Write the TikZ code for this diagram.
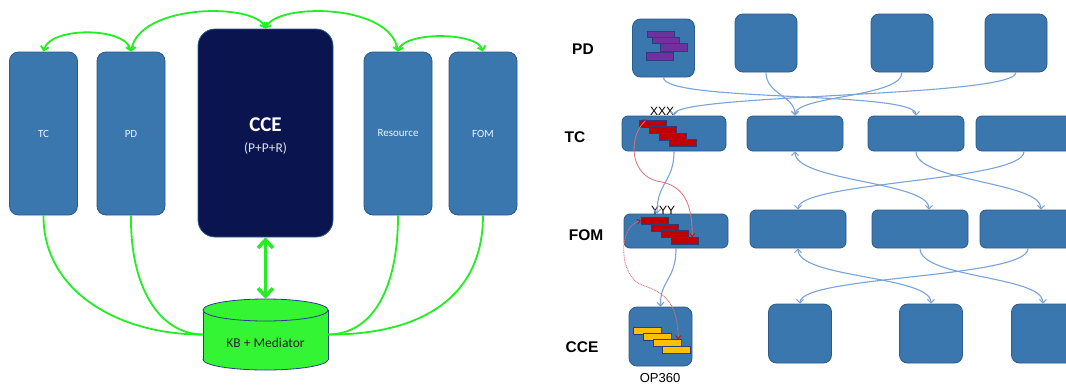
\documentclass[tikz,border=0pt]{standalone}
\usepackage{fontspec}
\setmainfont{Carlito}
\newfontfamily\arialf{Liberation Sans}
\usetikzlibrary{arrows.meta}
\definecolor{boxblue}{HTML}{3A77AF}
\definecolor{boxedge}{HTML}{2D5A87}
\definecolor{navybox}{HTML}{0A1550}
\definecolor{lgreen}{HTML}{22EE22}
\definecolor{cylgreen}{HTML}{33F533}
\definecolor{cyledge}{HTML}{2E3A8C}
\definecolor{conblue}{HTML}{7AA3D8}
\definecolor{conred}{HTML}{E07070}
\definecolor{tipred}{HTML}{B01010}
\definecolor{barred}{HTML}{C00000}
\definecolor{barpurple}{HTML}{7030A0}
\definecolor{barorange}{HTML}{FFC000}
\definecolor{baredge}{HTML}{2A3F7A}
\begin{document}
\begin{tikzpicture}[x=1pt,y=-1pt,
  tallbox/.style={draw=boxedge,fill=boxblue,line width=0.8pt,rounded corners=9pt,minimum width=68pt,minimum height=163pt,inner sep=0pt,text=white!92!boxblue,font=\fontsize{11}{13}\selectfont},
  ccebox/.style={draw=boxedge,fill=navybox,line width=0.8pt,rounded corners=17pt,minimum width=135pt,minimum height=208pt,inner sep=0pt},
  sqbox/.style={draw=boxedge,fill=boxblue,line width=0.8pt,rounded corners=8pt,minimum width=62pt,minimum height=58pt,inner sep=0pt},
  widebox/.style={draw=boxedge,fill=boxblue,line width=0.8pt,rounded corners=6pt,minimum width=96pt,minimum height=37pt,inner sep=0pt},
  rowlabel/.style={font=\arialf\bfseries\fontsize{15.5}{18}\selectfont,inner sep=0pt},
  bar/.style={draw=baredge,line width=0.6pt,inner sep=0pt,minimum width=27pt,minimum height=7pt},
  gline/.style={draw=lgreen,line width=1.8pt,{Straight Barb[length=4pt,width=8pt]}-{Straight Barb[length=4pt,width=8pt]}},
  gplain/.style={draw=lgreen,line width=1.8pt},
  bline/.style={draw=conblue,line width=1.1pt,-{Straight Barb[length=3.5pt,width=7pt]}},
  bboth/.style={draw=conblue,line width=1.1pt,{Straight Barb[length=3.5pt,width=7pt]}-{Straight Barb[length=3.5pt,width=7pt]}},
  rline/.style={draw=conred,line width=0.8pt,{Straight Barb[length=3pt,width=5pt,color=tipred]}-{Straight Barb[length=3pt,width=5pt,color=tipred]}},
  rdot/.style={rline,dash pattern=on 1pt off 0.7pt}
]
\useasboundingbox[fill=white] (0,0) rectangle (1066,386);

% ---------------- left panel ----------------
\node[tallbox] (ltc) at (43.5,133.5) {TC};
\node[tallbox] (lpd) at (131,133.5) {PD};
\node[tallbox] (lres) at (398,133.5) {Resource};
\node[tallbox] (lfom) at (483,133.5) {FOM};
\node[ccebox] (lcce) at (265.5,133) {};
\node[text=white,font=\bfseries\fontsize{21}{24}\selectfont,inner sep=0pt] (ccet) at (265.5,125) {CCE};
\node[text=white!88!navybox,font=\fontsize{13.5}{16}\selectfont,inner sep=0pt] (ccep) at (265.5,148) {(P+P+R)};

% cylinder
\node[minimum width=125pt,minimum height=71pt,inner sep=0pt] (kb) at (265.5,334.5) {};
\filldraw[fill=cylgreen,draw=cyledge,line width=0.8pt] (265.5,359.5) ellipse [x radius=62.5,y radius=10.5];
\fill[cylgreen] (203,310) rectangle (328,359.5);
\draw[cyledge,line width=0.8pt] (203,310) -- (203,359.5) (328,310) -- (328,359.5);
\filldraw[fill=cylgreen,draw=cyledge,line width=0.8pt] (265.5,310) ellipse [x radius=62.5,y radius=11];
\node[font=\fontsize{13.5}{16}\selectfont,text=black!85,inner sep=0pt] (kbt) at (265.5,343) {KB + Mediator};

% green connectors
\draw[gline] (ltc.north) .. controls +(6,-25) and +(-6,-25) .. (lpd.north);
\draw[gline] (lpd.north) .. controls (140,3) and (255,3) .. (lcce.north);
\draw[gline] (lcce.north) .. controls (277,3) and (390,3) .. (lres.north);
\draw[gline] (lres.north) .. controls +(6,-20) and +(-6,-20) .. (lfom.north);
\draw[gplain] (ltc.south) .. controls (43,292) and (120,335) .. (kb.west);
\draw[gplain] (lpd.south) .. controls (130,285) and (158,334) .. (kb.west);
\draw[gplain] (lres.south) .. controls (398,290) and (372,334) .. (kb.east);
\draw[gplain] (lfom.south) .. controls (483,305) and (410,335) .. (kb.east);
\draw[draw=lgreen,line width=3.5pt,{Straight Barb[length=8pt,width=15pt]}-{Straight Barb[length=8pt,width=15pt]}] (lcce.south) -- (kb.north);

% ---------------- right panel ----------------
\node[rowlabel] (lbpd) at (583,49) {PD};
\node[rowlabel] (lbtc) at (575,137) {TC};
\node[rowlabel] (lbfom) at (586,235) {FOM};
\node[rowlabel] (lbcce) at (582,347) {CCE};

\node[sqbox] (pd1) at (663.5,48) {};
\node[sqbox] (pd2) at (766,43) {};
\node[sqbox] (pd3) at (902,43) {};
\node[sqbox] (pd4) at (1016,43) {};

\node[widebox,minimum width=104pt,minimum height=35pt] (tc1) at (674,133.5) {};
\node[widebox,minimum height=35pt] (tc2) at (795,133.5) {};
\node[widebox,minimum height=35pt] (tc3) at (916,133.5) {};
\node[widebox,minimum height=35pt] (tc4) at (1024,133.5) {};

\node[widebox,minimum width=104pt,minimum height=34pt] (fom1) at (676,231) {};
\node[widebox,minimum height=38pt] (fom2) at (798,229) {};
\node[widebox,minimum height=38pt] (fom3) at (920,229) {};
\node[widebox,minimum height=38pt] (fom4) at (1028,229) {};

\node[sqbox,minimum width=63pt,minimum height=59pt] (cce1) at (660.5,336.5) {};
\node[sqbox,minimum width=63pt,minimum height=59pt] (cce2) at (800,333.5) {};
\node[sqbox,minimum width=63pt,minimum height=59pt] (cce3) at (931,333.5) {};
\node[sqbox,minimum width=63pt,minimum height=59pt] (cce4) at (1043,333.5) {};

% bars
\node[bar,fill=barpurple,minimum height=6pt] (pdb1) at (661,34.5) {};
\node[bar,fill=barpurple,minimum height=6pt] (pdb2) at (666,40) {};
\node[bar,fill=barpurple,minimum height=8pt] (pdb3) at (673.5,47) {};
\node[bar,fill=barpurple,minimum height=8pt] (pdb4) at (660,56.5) {};

\node[bar,fill=barred] (tcb1) at (652.5,123.5) {};
\node[bar,fill=barred] (tcb2) at (663,129.5) {};
\node[bar,fill=barred] (tcb3) at (673,136.5) {};
\node[bar,fill=barred] (tcb4) at (683,143) {};

\node[bar,fill=barred] (fomb1) at (654.5,221) {};
\node[bar,fill=barred] (fomb2) at (664.5,228) {};
\node[bar,fill=barred] (fomb3) at (674.5,234) {};
\node[bar,fill=barred] (fomb4) at (684.5,241) {};

\node[bar,fill=barorange,minimum width=28pt] (cceb1) at (647,330.5) {};
\node[bar,fill=barorange,minimum width=28pt] (cceb2) at (657,336.5) {};
\node[bar,fill=barorange,minimum width=28pt] (cceb3) at (667,343) {};
\node[bar,fill=barorange,minimum width=28pt] (cceb4) at (676.5,350) {};

\node[font=\arialf\fontsize{12}{14}\selectfont,inner sep=0pt] (xxx) at (662,111) {XXX};
\node[font=\arialf\fontsize{12}{14}\selectfont,inner sep=0pt] (yyy) at (663,210) {YYY};
\node[font=\arialf\fontsize{13}{15}\selectfont,inner sep=0pt] (op) at (660,378) {OP360};

% blue connectors PD -> TC
\draw[bline] (pd1.south) .. controls +(0,25) and +(0,-25) .. (tc3.north);
\draw[bline] (pd4.south) .. controls +(0,25) and +(0,-22) .. (tc1.north);
\draw[bline] (pd2.south) .. controls +(0,22) and +(0,-20) .. (tc2.north);
\draw[bline] (pd3.south) .. controls +(0,25) and +(0,-20) .. (tc2.north);

% TC -> FOM
\draw[bboth] (tc2.south) .. controls +(0,30) and +(0,-28) .. ([xshift=9pt]fom3.north);
\draw[bline] (tc3.south) .. controls +(0,30) and +(0,-28) .. ([xshift=13pt]fom4.north);
\draw[bline] (tc4.south) .. controls +(0,30) and +(0,-28) .. (fom2.north);

% FOM -> CCE
\draw[bboth] (fom2.south) .. controls +(0,30) and +(0,-28) .. (cce3.north);
\draw[bline] (fom3.south) .. controls +(0,30) and +(0,-28) .. (cce4.north);
\draw[bline] (fom4.south) .. controls +(0,30) and +(0,-28) .. (cce2.north);

% left column
\draw[bline] (tc1.south) .. controls (674,182) and (657,182) .. ([xshift=-19pt]fom1.north);
\draw[bline] (fom1.south) .. controls (676,280) and (660,280) .. (cce1.north);

% red connectors
\draw[rline] ([xshift=8pt]tcb1.north west) .. controls (628,135) and (628,178) .. (662,182) .. controls (690,188) and (692,215) .. ([xshift=-6pt]fomb4.north east);
\draw[rdot] (fomb1.west) .. controls (618,225) and (618,276) .. (642,285) .. controls (662,292) and (678,300) .. ([xshift=-3pt]cceb3.north east);
\end{tikzpicture}
\end{document}
